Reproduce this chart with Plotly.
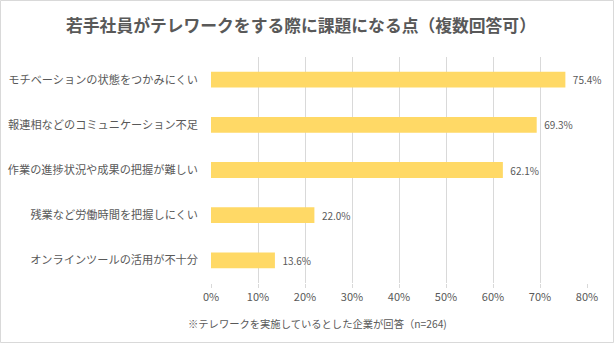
import plotly.graph_objects as go

categories = [
    "モチベーションの状態をつかみにくい",
    "報連相などのコミュニケーション不足",
    "作業の進捗状況や成果の把握が難しい",
    "残業など労働時間を把握しにくい",
    "オンラインツールの活用が不十分",
]
values = [75.4, 69.3, 62.1, 22.0, 13.6]
x_ticks = [0, 10, 20, 30, 40, 50, 60, 70, 80]
x_tick_labels = [f"{v}%" for v in x_ticks]

FONT = "Noto Sans CJK JP"
GREY = "#595959"

W, H = 614, 343
L, R, T, B = 211, 27, 57, 60
pw, ph = W - L - R, H - T - B

fig = go.Figure(go.Bar(
    y=categories,
    x=values,
    orientation="h",
    marker=dict(color="#FFD966", line=dict(width=0)),
    text=[f"  {v:.1f}%" for v in values],
    textposition="outside",
    textfont=dict(family=FONT, size=10, color=GREY),
    cliponaxis=False,
    hoverinfo="skip",
))

fig.update_layout(
    width=W, height=H,
    margin=dict(l=L, r=R, t=T, b=B),
    paper_bgcolor="white",
    plot_bgcolor="white",
    bargap=0.65,
    showlegend=False,
    title=dict(
        text="<b>若手社員がテレワークをする際に課題になる点（複数回答可）</b>",
        x=301 / W, xref="container", xanchor="center",
        y=1 - 26 / H, yref="container", yanchor="middle",
        font=dict(family=FONT, size=16.8, color=GREY),
    ),
    xaxis=dict(
        range=[0, 80],
        tickvals=x_ticks,
        ticktext=x_tick_labels,
        showgrid=True,
        gridcolor="#D9D9D9",
        gridwidth=1,
        zeroline=False,
        showline=False,
        ticks="outside",
        ticklen=4,
        tickcolor="#D9D9D9",
        tickfont=dict(family=FONT, size=11, color=GREY),
        automargin=False,
        fixedrange=True,
    ),
    yaxis=dict(
        categoryorder="array",
        categoryarray=categories[::-1],
        showgrid=False,
        showline=False,
        zeroline=False,
        ticks="",
        ticklabelstandoff=12,
        tickfont=dict(family=FONT, size=11.2, color=GREY),
        automargin=False,
        fixedrange=True,
    ),
    annotations=[dict(
        text="※テレワークを実施しているとした企業が回答（n=264)",
        xref="paper", yref="paper",
        x=(186 - L) / pw, y=-(323 - (T + ph)) / ph,
        xanchor="left", yanchor="middle",
        showarrow=False,
        font=dict(family=FONT, size=10.3, color=GREY),
    )],
    shapes=[dict(
        type="rect", xref="paper", yref="paper",
        x0=(0.5 - L) / pw, x1=(W - 0.5 - L) / pw,
        y0=-(H - 0.5 - T - ph) / ph, y1=1 + (T - 0.5) / ph,
        line=dict(color="#D9D9D9", width=1),
        fillcolor="rgba(0,0,0,0)",
        layer="below",
    )],
)

fig.write_html("out.html")
